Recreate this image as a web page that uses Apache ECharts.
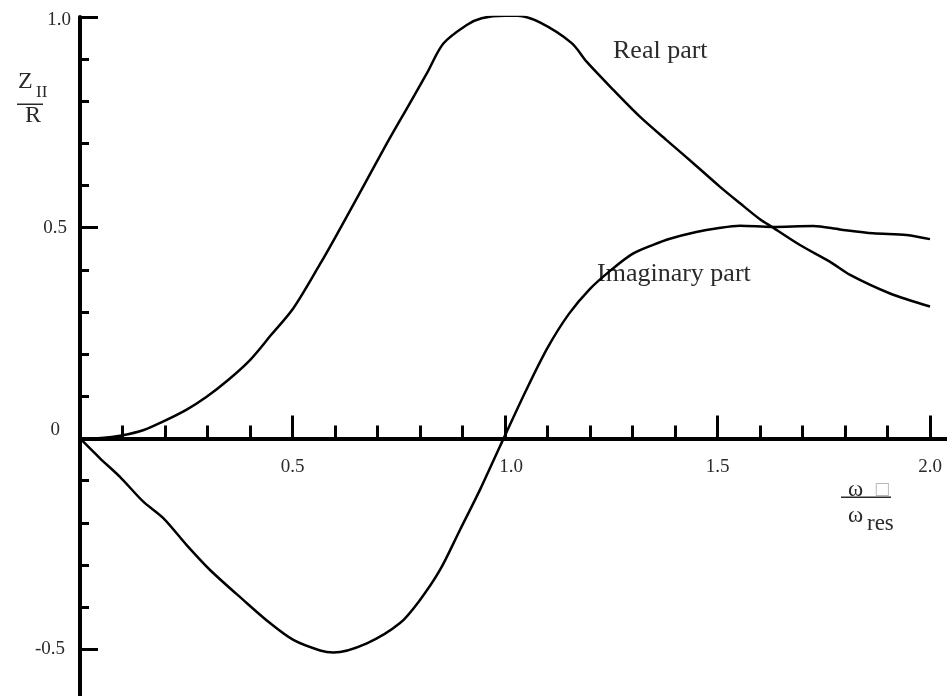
<!DOCTYPE html>
<html>
<head>
<meta charset="utf-8">
<style>
  html, body { margin: 0; padding: 0; background: #fff; }
  #chart { width: 947px; height: 696px; }
</style>
<script src="https://cdn.jsdelivr.net/npm/echarts@6/dist/echarts.min.js"></script>
</head>
<body>
<div id="chart"></div>
<script>
// Normalised impedance Z_II / R against frequency ratio ω / ω_res
const realFreq = [0, 0.05, 0.098, 0.15, 0.195, 0.25, 0.298, 0.35, 0.4, 0.45, 0.502, 0.565, 0.6, 0.659, 0.722, 0.776, 0.816, 0.855, 0.91, 0.945, 1.0, 1.03, 1.082, 1.157, 1.192, 1.255, 1.318, 1.38, 1.443, 1.506, 1.553, 1.6, 1.628, 1.694, 1.765, 1.812, 1.906, 2.0];
const realPart = [0, 0.001, 0.007, 0.02, 0.04, 0.068, 0.099, 0.14, 0.186, 0.246, 0.309, 0.414, 0.476, 0.584, 0.7, 0.795, 0.866, 0.937, 0.981, 0.997, 1.003, 1.003, 0.987, 0.938, 0.894, 0.827, 0.763, 0.708, 0.653, 0.597, 0.558, 0.52, 0.502, 0.459, 0.419, 0.388, 0.344, 0.313];

const imagFreq = [0, 0.047, 0.094, 0.149, 0.196, 0.251, 0.306, 0.384, 0.447, 0.502, 0.565, 0.596, 0.675, 0.753, 0.8, 0.847, 0.894, 0.941, 0.988, 1.05, 1.1, 1.15, 1.2, 1.25, 1.3, 1.35, 1.388, 1.45, 1.5, 1.553, 1.628, 1.725, 1.788, 1.866, 1.945, 2.0];
const imagPart = [0, -0.047, -0.091, -0.15, -0.189, -0.253, -0.312, -0.383, -0.438, -0.478, -0.503, -0.508, -0.486, -0.438, -0.383, -0.312, -0.217, -0.122, -0.019, 0.115, 0.215, 0.295, 0.355, 0.4, 0.438, 0.46, 0.474, 0.49, 0.499, 0.505, 0.502, 0.504, 0.496, 0.487, 0.483, 0.473];

// Axis ticks and labels
const xMajorTicks = [0.5, 1.0, 1.5, 2.0];
const xMinorTicks = [0.1, 0.2, 0.3, 0.4, 0.6, 0.7, 0.8, 0.9, 1.1, 1.2, 1.3, 1.4, 1.6, 1.7, 1.8, 1.9];
const yMajorTicks = [-0.5, 0.5, 1.0];
const yMinorTicks = [-0.4, -0.3, -0.2, -0.1, 0.1, 0.2, 0.3, 0.4, 0.6, 0.7, 0.8, 0.9];
const xTickLabels = [0.5, 1.0, 1.5, 2.0];
const yTickLabels = [-0.5, 0, 0.5, 1.0];

const X_MIN = 0, X_MAX = 2.04;
const Y_MIN = -0.611, Y_MAX = 1.0;

const SERIF = '"Liberation Serif", "DejaVu Serif", serif';
const TEXT = '#2a2a2a';

function pairs(xs, ys) { return xs.map((x, i) => [x, ys[i]]); }

const chart = echarts.init(document.getElementById('chart'), null, { renderer: 'canvas' });

const gridRect = { left: 80, right: 0, top: 17, bottom: 0, containLabel: false, outerBoundsMode: 'none' };

const tickFont = { fontFamily: SERIF, fontSize: 19, color: TEXT };

const yLabelRich = {
  t: Object.assign({ padding: [6, 0, 0, 0] }, tickFont),
  h: Object.assign({ padding: [0, 4, 0, 0] }, tickFont),
  z: Object.assign({ padding: [0, 11, 16, 0] }, tickFont),
  n: Object.assign({ padding: [0, 6, 0, 0] }, tickFont)
};

const xLabelRich = {
  a: Object.assign({}, tickFont),
  b: Object.assign({ padding: [0, 0, 0, 12] }, tickFont)
};

const option = {
  animation: false,
  backgroundColor: '#fff',
  grid: [Object.assign({}, gridRect), Object.assign({}, gridRect)],
  xAxis: [
    {
      gridIndex: 0, type: 'value', min: X_MIN, max: X_MAX,
      axisLine: { show: true, onZero: true, lineStyle: { color: '#000', width: 4 } },
      axisTick: { show: true, inside: true, length: 23, customValues: xMajorTicks,
                  lineStyle: { color: '#000', width: 3 } },
      axisLabel: { show: false },
      splitLine: { show: false }
    },
    {
      gridIndex: 1, type: 'value', min: X_MIN, max: X_MAX,
      axisLine: { show: false, onZero: true },
      axisTick: { show: true, inside: true, length: 13, customValues: xMinorTicks,
                  lineStyle: { color: '#000', width: 3 } },
      axisLabel: { show: false },
      splitLine: { show: false }
    }
  ],
  yAxis: [
    {
      gridIndex: 0, type: 'value', min: Y_MIN, max: Y_MAX,
      axisLine: { show: true, onZero: true, lineStyle: { color: '#000', width: 4 } },
      axisTick: { show: true, inside: true, length: 18, customValues: yMajorTicks,
                  lineStyle: { color: '#000', width: 3 } },
      axisLabel: {
        show: true, customValues: yTickLabels, margin: 9,
        fontFamily: SERIF, fontSize: 19, color: TEXT,
        formatter: v => {
          if (v === 0) return '{z|0}';
          if (v === 1) return '{t|1.0}';
          if (v === 0.5) return '{h|0.5}';
          return '{n|-0.5}';
        },
        rich: yLabelRich
      },
      splitLine: { show: false }
    },
    {
      gridIndex: 1, type: 'value', min: Y_MIN, max: Y_MAX,
      axisLine: { show: false, onZero: true },
      axisTick: { show: true, inside: true, length: 9, customValues: yMinorTicks,
                  lineStyle: { color: '#000', width: 3 } },
      axisLabel: { show: false },
      splitLine: { show: false }
    }
  ],
  series: [
    {
      name: 'Real part', type: 'line', xAxisIndex: 0, yAxisIndex: 0,
      data: pairs(realFreq, realPart), showSymbol: false, symbol: 'none',
      smooth: 0.3, lineStyle: { color: '#000', width: 2.5 }, z: 3
    },
    {
      name: 'Imaginary part', type: 'line', xAxisIndex: 0, yAxisIndex: 0,
      data: pairs(imagFreq, imagPart), showSymbol: false, symbol: 'none',
      smooth: 0.3, lineStyle: { color: '#000', width: 2.5 }, z: 3
    },
    {
      // frequency-axis tick labels, hung just under the zero line
      name: 'x tick labels', type: 'scatter', xAxisIndex: 0, yAxisIndex: 0,
      data: xTickLabels.map(v => [v, 0]), symbol: 'circle', symbolSize: 0,
      itemStyle: { color: '#000', opacity: 1 },
      silent: true, z: 4,
      label: {
        show: true, position: 'bottom', distance: 19,
        fontFamily: SERIF, fontSize: 19, color: TEXT, opacity: 1,
        textBorderWidth: 0,
        formatter: p => (p.value[0] === 1 ? '{b|' : '{a|') + p.value[0].toFixed(1) + '}',
        rich: xLabelRich
      }
    }
  ],
  graphic: [
    // curve captions
    { type: 'text', left: 613, top: 38,
      style: { text: 'Real part', font: '26px ' + SERIF, fill: TEXT } },
    { type: 'text', left: 597, top: 261,
      style: { text: 'Imaginary part', font: '26px ' + SERIF, fill: TEXT } },

    // vertical axis title: Z_II over R
    { type: 'text', left: 18, top: 70,
      style: { text: 'Z', font: '24px ' + SERIF, fill: TEXT } },
    { type: 'text', left: 36, top: 84,
      style: { text: 'II', font: '17px ' + SERIF, fill: TEXT } },
    { type: 'rect', shape: { x: 17, y: 103.5, width: 26, height: 1.5 },
      style: { fill: TEXT } },
    { type: 'text', left: 25, top: 104,
      style: { text: 'R', font: '24px ' + SERIF, fill: TEXT } },

    // horizontal axis title: ω over ω_res
    { type: 'text', left: 848, top: 478,
      style: { text: 'ω', font: '23px ' + SERIF, fill: TEXT } },
    { type: 'text', left: 874, top: 481,
      style: { text: '□', font: '17px "DejaVu Sans", sans-serif', fill: '#b8b8b8' } },
    { type: 'rect', shape: { x: 841, y: 496.5, width: 50, height: 1.5 },
      style: { fill: TEXT } },
    { type: 'text', left: 848, top: 504,
      style: { text: 'ω', font: '23px ' + SERIF, fill: TEXT } },
    { type: 'text', left: 867, top: 512,
      style: { text: 'res', font: '23px ' + SERIF, fill: TEXT } }
  ]
};

chart.setOption(option);
</script>
</body>
</html>
